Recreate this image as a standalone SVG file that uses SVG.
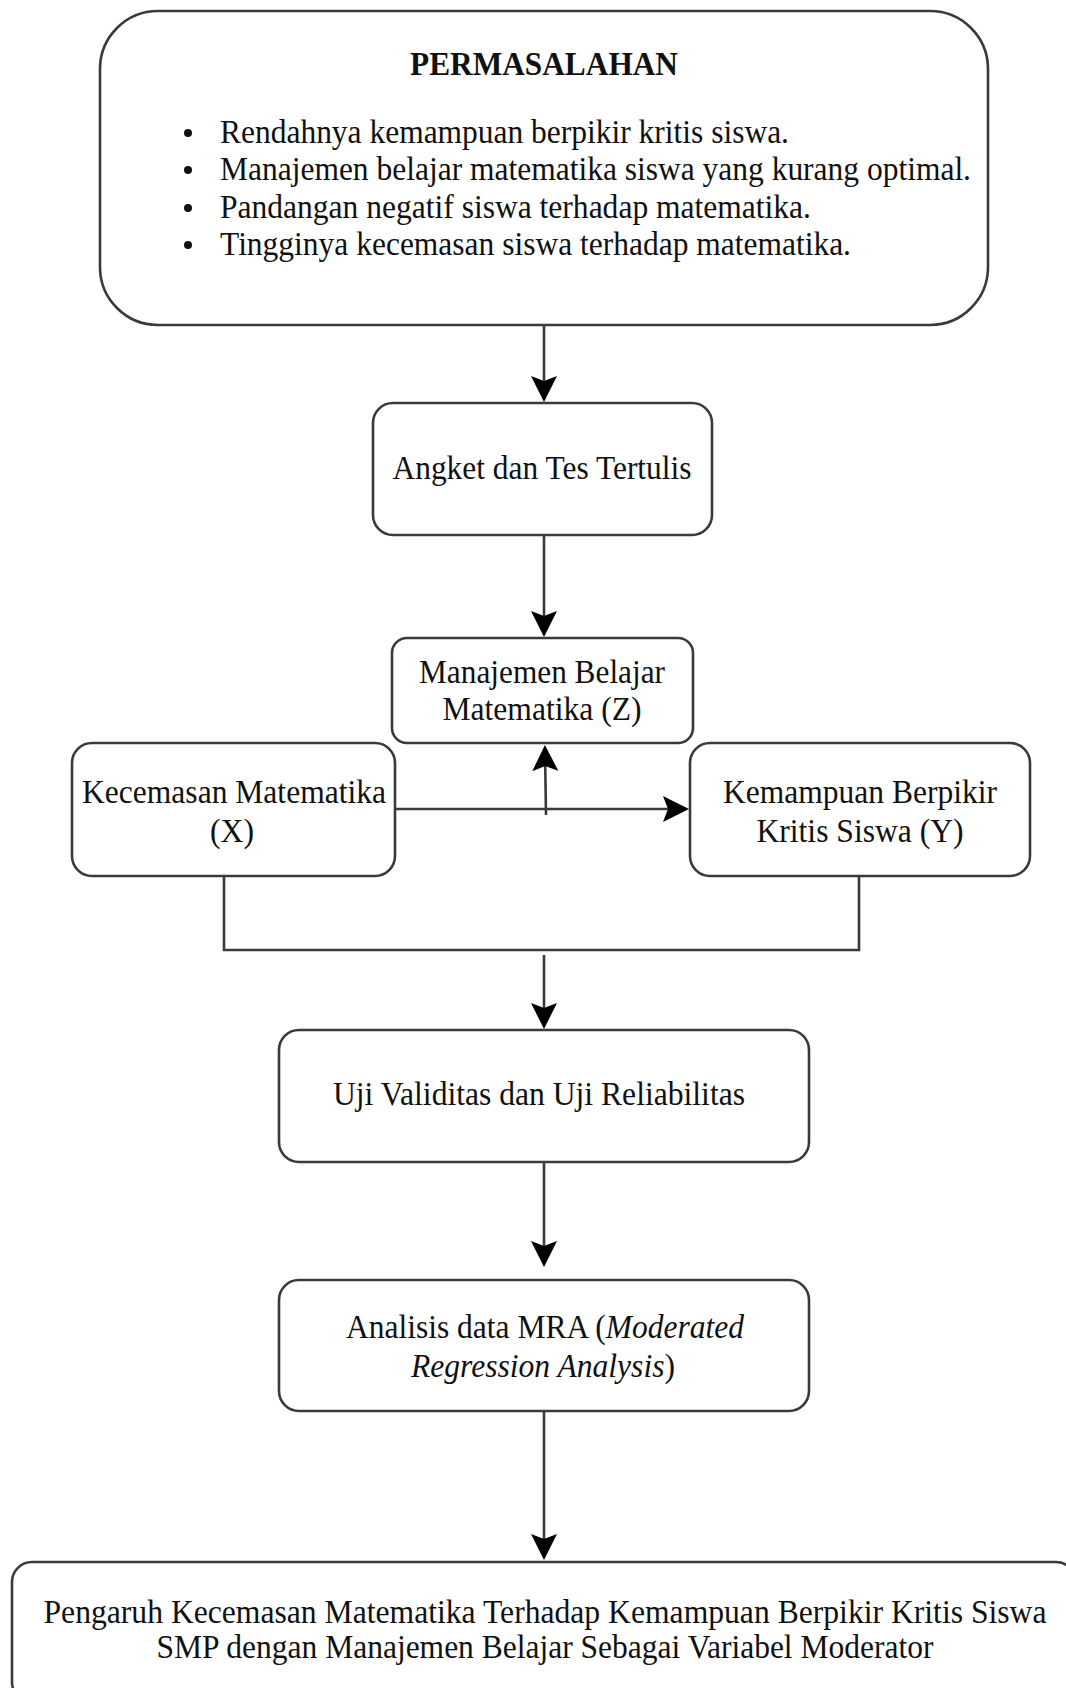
<svg xmlns="http://www.w3.org/2000/svg" width="1066" height="1688" viewBox="0 0 1066 1688">
<style>
.box{fill:#fff;stroke:#3a3a3a;stroke-width:2.6}
.t{font-family:"Liberation Serif","Times New Roman",serif;font-size:33px;fill:#111;text-anchor:middle}
.tl{font-family:"Liberation Serif","Times New Roman",serif;font-size:33px;fill:#111}
.b{font-weight:bold}
.i{font-style:italic}
.c{fill:none;stroke:#3a3a3a;stroke-width:2.6}
</style>
<defs>
<marker id="ah" markerUnits="userSpaceOnUse" viewBox="0 0 26 26" refX="20" refY="13" markerWidth="26" markerHeight="26" orient="auto">
<path d="M0,0 L26,13 L0,26 L5,13 z" fill="#000"/>
</marker>
</defs>
<rect width="1066" height="1688" fill="#fff"/>
<g id="connectors">
<line class="c" x1="544" y1="325" x2="544" y2="396" marker-end="url(#ah)"/>
<line class="c" x1="544" y1="535" x2="544" y2="631" marker-end="url(#ah)"/>
<line class="c" x1="546" y1="815" x2="545" y2="751" marker-end="url(#ah)"/>
<line class="c" x1="395" y1="809" x2="683" y2="809" marker-end="url(#ah)"/>
<polyline class="c" points="224,876 224,950 859,950 859,876"/>
<line class="c" x1="544" y1="955" x2="544" y2="1023" marker-end="url(#ah)"/>
<line class="c" x1="544" y1="1162" x2="544" y2="1261" marker-end="url(#ah)"/>
<line class="c" x1="544" y1="1411" x2="544" y2="1554" marker-end="url(#ah)"/>
</g>
<g id="permasalahan">
<rect class="box" x="100" y="11" width="888" height="314" rx="58" ry="58"/>
<text class="t b" x="544" y="75" textLength="268" lengthAdjust="spacingAndGlyphs">PERMASALAHAN</text>
<circle cx="188" cy="133" r="4" fill="#111"/>
<circle cx="188" cy="170" r="4" fill="#111"/>
<circle cx="188" cy="208" r="4" fill="#111"/>
<circle cx="188" cy="245" r="4" fill="#111"/>
<text class="tl" x="220" y="143" textLength="569" lengthAdjust="spacingAndGlyphs">Rendahnya kemampuan berpikir kritis siswa.</text>
<text class="tl" x="220" y="180" textLength="751" lengthAdjust="spacingAndGlyphs">Manajemen belajar matematika siswa yang kurang optimal.</text>
<text class="tl" x="220" y="218" textLength="591" lengthAdjust="spacingAndGlyphs">Pandangan negatif siswa terhadap matematika.</text>
<text class="tl" x="220" y="255" textLength="631" lengthAdjust="spacingAndGlyphs">Tingginya kecemasan siswa terhadap matematika.</text>
</g>
<g id="angket">
<rect class="box" x="373" y="403" width="339" height="132" rx="20" ry="20"/>
<text class="t" x="542" y="479" textLength="299" lengthAdjust="spacingAndGlyphs">Angket dan Tes Tertulis</text>
</g>
<g id="manajemen">
<rect class="box" x="392" y="638" width="301" height="105" rx="15" ry="15"/>
<text class="t" x="542" y="683" textLength="246" lengthAdjust="spacingAndGlyphs">Manajemen Belajar</text>
<text class="t" x="542" y="720" textLength="199" lengthAdjust="spacingAndGlyphs">Matematika (Z)</text>
</g>
<g id="kecemasan">
<rect class="box" x="72" y="743" width="323" height="133" rx="20" ry="20"/>
<text class="t" x="234" y="803" textLength="304" lengthAdjust="spacingAndGlyphs">Kecemasan Matematika</text>
<text class="t" x="232" y="842" textLength="44" lengthAdjust="spacingAndGlyphs">(X)</text>
</g>
<g id="kemampuan">
<rect class="box" x="690" y="743" width="340" height="133" rx="20" ry="20"/>
<text class="t" x="860" y="803" textLength="274" lengthAdjust="spacingAndGlyphs">Kemampuan Berpikir</text>
<text class="t" x="860" y="842" textLength="207" lengthAdjust="spacingAndGlyphs">Kritis Siswa (Y)</text>
</g>
<g id="uji">
<rect class="box" x="279" y="1030" width="530" height="132" rx="20" ry="20"/>
<text class="t" x="539" y="1105" textLength="412" lengthAdjust="spacingAndGlyphs">Uji Validitas dan Uji Reliabilitas</text>
</g>
<g id="analisis">
<rect class="box" x="279" y="1280" width="530" height="131" rx="20" ry="20"/>
<text class="t" x="545" y="1338" textLength="398" lengthAdjust="spacingAndGlyphs">Analisis data MRA (<tspan class="i">Moderated</tspan></text>
<text class="t" x="543" y="1377" textLength="264" lengthAdjust="spacingAndGlyphs"><tspan class="i">Regression Analysis</tspan>)</text>
</g>
<g id="pengaruh">
<rect class="box" x="12" y="1562" width="1064" height="140" rx="20" ry="20"/>
<text class="t" x="545" y="1623" textLength="1003" lengthAdjust="spacingAndGlyphs">Pengaruh Kecemasan Matematika Terhadap Kemampuan Berpikir Kritis Siswa</text>
<text class="t" x="545" y="1658" textLength="777" lengthAdjust="spacingAndGlyphs">SMP dengan Manajemen Belajar Sebagai Variabel Moderator</text>
</g>
</svg>
